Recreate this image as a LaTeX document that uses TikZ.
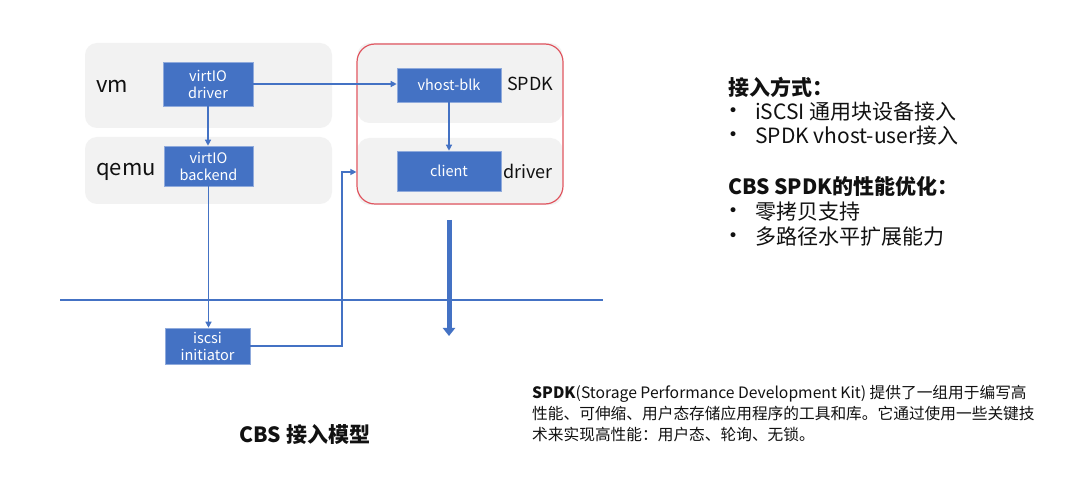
\documentclass[tikz,border=0pt]{standalone}
\usepackage{fontspec}
\setmainfont{Noto Sans CJK SC}
\newfontfamily\djv{DejaVu Sans}
\usetikzlibrary{arrows.meta}
\definecolor{boxblue}{HTML}{4472C4}
\definecolor{panel}{HTML}{F2F2F2}
\definecolor{spdkred}{HTML}{E0555F}
\definecolor{ink}{HTML}{111111}
\begin{document}
\begin{tikzpicture}[x=1pt,y=-1pt,
  panelbox/.style={fill=panel, rounded corners=12pt, draw=none, inner sep=0pt},
  bluebox/.style={fill=boxblue, draw=boxblue!60!white, line width=0.6pt, text=white, font=\fontsize{14.5}{17}\selectfont, align=center, inner sep=0pt},
  conn/.style={draw=boxblue, line width=1.3pt, -{Triangle[length=6pt,width=6pt]}},
  lbl/.style={font=\fontsize{22}{26}\selectfont, text=ink, anchor=west, inner sep=0pt},
  slbl/.style={font=\fontsize{18}{22}\selectfont, text=ink, anchor=west, inner sep=0pt},
  side/.style={font=\fontsize{21}{25}\selectfont, text=ink, anchor=west, inner sep=0pt},
  bul/.style={font=\fontsize{17}{20}\selectfont\djv, text=ink, anchor=west, inner sep=0pt},
]
\useasboundingbox[fill=white] (0,0) rectangle (1080,486);
% panels
\node[panelbox, minimum width=247pt, minimum height=85pt] (vmpanel) at (208.5,85.5) {};
\node[panelbox, minimum width=247pt, minimum height=67pt] (qemupanel) at (208.5,170.5) {};
\node[panelbox, minimum width=205pt, minimum height=80pt] (spdkpanel) at (460,83) {};
\node[panelbox, minimum width=205pt, minimum height=67pt] (drvpanel) at (460,171.5) {};
\node[draw=spdkred, line width=1.2pt, rounded corners=18pt, minimum width=206pt, minimum height=160pt, inner sep=0pt] (spdk) at (460,124) {};
% labels
\node[lbl] (vmlbl) at (96,86) {vm};
\node[lbl] (qemulbl) at (96,172) {qemu};
\node[slbl] (spdklbl) at (507,84) {SPDK};
\node[slbl] (drvlbl) at (503,171) {driver};
% blue boxes
\node[bluebox, minimum width=90pt, minimum height=44pt] (drv) at (208,84) {virtIO\\driver};
\node[bluebox, minimum width=89pt, minimum height=40pt] (backend) at (208.5,166) {virtIO\\backend};
\node[bluebox, minimum width=104pt, minimum height=34pt] (vhost) at (449,85) {vhost-blk};
\node[bluebox, minimum width=104pt, minimum height=40pt] (client) at (449,171) {client};
\node[bluebox, minimum width=85pt, minimum height=36pt] (iscsi) at (207.5,346) {iscsi\\initiator};
% connectors
\draw[conn] (drv.east) -- (drv.east -| vhost.west);
\draw[conn] (drv.south) -- (drv.south |- backend.north);
\draw[conn] (vhost.south) -- (client.north);
\draw[conn] (backend.south) -- (backend.south |- iscsi.north);
\coordinate (bend) at (342,172);
\draw[conn] (iscsi.east) -- (iscsi.east -| bend) -- (bend) -- (bend -| spdk.west);
% horizontal line and thick arrow
\coordinate (hl) at (60,300);
\coordinate (hr) at (603,300);
\draw[boxblue, line width=1.3pt] (hl) -- (hr);
\coordinate (ta) at (449,220);
\coordinate (tb) at (449,336);
\draw[boxblue, line width=5pt, -{Triangle[length=8pt,width=12pt]}] (ta) -- (tb);
% side text
\node[side, font=\fontsize{21}{25}\selectfont\bfseries] (h1) at (728,87) {接入方式：};
\node[bul] (b1) at (728,112) {•};
\node[side] (t1) at (755,112) {iSCSI 通用块设备接入};
\node[bul] (b2) at (728,136) {•};
\node[side] (t2) at (755,136) {SPDK vhost-user接入};
\node[side, font=\fontsize{21}{25}\selectfont\bfseries] (h2) at (728,187) {CBS SPDK的性能优化：};
\node[bul] (b3) at (728,212) {•};
\node[side] (t3) at (755,212) {零拷贝支持};
\node[bul] (b4) at (728,237) {•};
\node[side] (t4) at (755,237) {多路径水平扩展能力};
% caption
\node[font=\fontsize{21}{25}\selectfont\bfseries, text=ink, inner sep=0pt] (cap) at (305,435) {CBS 接入模型};
% paragraph
\node[font=\fontsize{15.7}{21}\selectfont, text=ink, anchor=north west, align=left, inner sep=0pt] (para) at (532,385)
 {\textbf{SPDK}(Storage Performance Development Kit) 提供了一组用于编写高\\
  性能、可伸缩、用户态存储应用程序的工具和库。它通过使用一些关键技\\
  术来实现高性能：用户态、轮询、无锁。};
\end{tikzpicture}
\end{document}
